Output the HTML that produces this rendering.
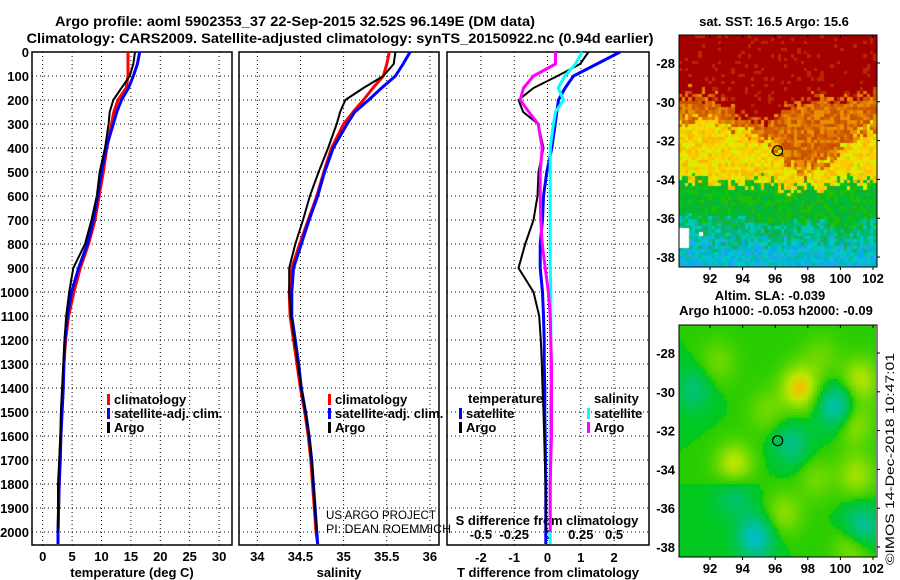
<!DOCTYPE html>
<html><head><meta charset="utf-8">
<style>
html,body{margin:0;padding:0;background:#fff;}
svg{display:block;font-family:"Liberation Sans",Arial,sans-serif;}
.t{font-weight:bold;font-size:13px;}
canvas{position:absolute;}
</style></head>
<body>
<div style="position:relative;width:900px;height:580px;">
<canvas id="sstMap" width="198" height="232" style="left:679px;top:35px;"></canvas>
<canvas id="slaMap" width="197" height="232" style="left:679px;top:325px;"></canvas>
<svg id="fig" width="900" height="580" style="position:absolute;left:0;top:0;" xmlns="http://www.w3.org/2000/svg">
<text x="295" y="26" text-anchor="middle" font-weight="bold" font-size="14" textLength="480" lengthAdjust="spacingAndGlyphs">Argo profile: aoml 5902353_37 22-Sep-2015 32.52S 96.149E (DM data)</text>
<text x="340" y="43" text-anchor="middle" font-weight="bold" font-size="14" textLength="627" lengthAdjust="spacingAndGlyphs">Climatology: CARS2009. Satellite-adjusted climatology: synTS_20150922.nc (0.94d earlier)</text>
<g id="g"></g>
<text x="774" y="26" text-anchor="middle" class="t">sat. SST: 16.5 Argo: 15.6</text>
<text x="770" y="300" text-anchor="middle" class="t">Altim. SLA: -0.039</text>
<text x="776" y="315" text-anchor="middle" class="t">Argo h1000: -0.053 h2000: -0.09</text>
<text transform="translate(894,565) rotate(-90)" font-size="12" textLength="212" lengthAdjust="spacingAndGlyphs">©IMOS 14-Dec-2018 10:47:01</text>
<text x="326" y="519" font-size="12" textLength="110" lengthAdjust="spacingAndGlyphs">US ARGO PROJECT</text>
<text x="326" y="533" font-size="12" textLength="125" lengthAdjust="spacingAndGlyphs">PI: DEAN ROEMMICH</text>
</svg>
</div>
<script>
// ---- data ----
const depths=[0,50,100,150,200,250,300,400,500,600,700,800,900,1000,1100,1200,1300,1400,1500,1600,1700,1800,1900,2000,2050];
const tempClim=[14.5,14.5,14.5,14.2,12.8,12.1,11.7,10.9,10.3,9.6,8.9,7.8,6.4,5.3,4.4,3.9,3.6,3.4,3.2,3.1,2.9,2.8,2.7,2.6,2.6];
const tempSat=[16.5,16.1,15.4,14.6,13.4,12.6,12.0,10.8,10.0,9.35,8.6,7.6,6.1,4.9,4.2,3.8,3.6,3.5,3.3,3.1,3.0,2.8,2.7,2.6,2.6];
const tempArgo=[15.7,15.4,14.8,13.4,12.0,11.4,11.2,10.6,9.7,9.2,8.3,7.2,5.2,4.5,4.0,3.7,3.5,3.3,3.1,3.0,2.8,2.6,2.6,2.6,null];
const salClim=[35.53,35.50,35.46,35.34,35.23,35.11,35.0,34.86,34.77,34.69,34.59,34.49,34.40,34.37,34.38,34.42,34.46,34.50,34.55,34.59,34.62,34.64,34.66,34.68,34.70];
const salSat=[35.77,35.69,35.60,35.44,35.29,35.13,35.04,34.88,34.78,34.70,34.60,34.51,34.42,34.40,34.40,34.44,34.48,34.51,34.56,34.60,34.63,34.65,34.67,34.69,34.70];
const salArgo=[35.60,35.58,35.46,35.23,35.02,34.96,34.92,34.82,34.71,34.61,34.53,34.44,34.37,34.37,34.39,34.43,34.47,34.51,34.56,34.60,34.63,34.65,34.67,34.69,null];
const dTsat=[2.18,1.48,0.78,0.53,0.33,0.28,0.23,0.13,-0.02,-0.12,-0.15,-0.22,-0.22,-0.15,-0.12,-0.1,-0.1,-0.08,-0.08,-0.07,-0.06,-0.05,-0.05,-0.05,-0.05];
const dTargo=[1.23,0.98,0.30,-0.42,-0.87,-0.73,-0.28,-0.12,-0.27,-0.30,-0.42,-0.67,-0.87,-0.42,-0.25,-0.2,-0.17,-0.15,-0.12,-0.1,-0.08,-0.06,-0.05,-0.05,null];
const dSsat=[0.26,0.21,0.13,0.08,0.12,0.06,0.045,0.02,0.02,0.02,0.02,0.02,0.02,0.025,0.025,0.025,0.025,0.025,0.02,0.02,0.02,0.02,0.02,0.02,0.02];
const dSargo=[0.06,0.06,-0.105,-0.18,-0.205,-0.14,-0.07,-0.04,-0.055,-0.055,-0.05,-0.04,-0.017,0.007,0.02,0.025,0.03,0.03,0.03,0.03,0.025,0.02,0.02,0.02,null];
const depthTicks=[0,100,200,300,400,500,600,700,800,900,1000,1100,1200,1300,1400,1500,1600,1700,1800,1900,2000];
const tempTicks=[0,5,10,15,20,25,30];
const salTicks=[34,34.5,35,35.5,36];
const salTickLabels=["34","34.5","35","35.5","36"];
const dTTicks=[-2,-1,0,1,2];
const dTTickLabels=["-2","-1","0","1","2"];
const dSTicks=[-0.5,-0.25,0,0.25,0.5];
const dSTickLabels=["-0.5","-0.25","0","0.25","0.5"];
const lonTicks=[92,94,96,98,100,102];
const latTicks=[-28,-30,-32,-34,-36,-38];
const floatLon=96.149, floatLat=-32.52;
// SST band boundaries (latitude) per longitude column 90..102 step 1
const sstRedEdge=[-29.6,-29.6,-29.8,-30.2,-30.8,-31.2,-30.8,-30.2,-29.9,-29.8,-29.9,-29.7,-29.6];
const sstYellowEdge=[-31.0,-31.0,-31.0,-31.2,-31.5,-31.8,-32.3,-33.2,-33.6,-33.2,-32.5,-31.8,-31.2];
const sstGreenEdge=[-34.0,-34.0,-34.1,-34.2,-34.3,-34.0,-34.3,-34.6,-34.4,-34.6,-34.1,-34.0,-34.1];
const sstTealEdge=[-35.8,-35.9,-36.0,-36.1,-36.2,-36.3,-36.6,-36.5,-36.3,-36.2,-36.6,-36.4,-36.2];
// SLA blobs: lon, lat, amplitude (positive=yellow, negative=teal)
const blobLon=[97.5,93.5,101.2,100.8,101,100.8,96.5,99.8,94.8,101.3,97,91,93.5,95.5,98.5,92.5,98.8];
const blobLat=[-29.8,-33.8,-29.4,-31.6,-34.3,-37.9,-36.3,-30.8,-37.5,-37,-32.7,-29.9,-35.3,-31,-34.5,-28.5,-28.2];
const blobAmp=[1.0,0.8,0.7,0.6,0.6,0.6,0.5,-1.0,-1.0,-0.9,-0.6,-0.5,-0.5,0.35,0.35,0.35,0.3];

// ---- axes ----
const NS="http://www.w3.org/2000/svg";
const g=document.getElementById('g');
const Y0=52,Y1=545,DMAX=2054;
const yD=d=>Y0+(Y1-Y0)*d/DMAX;
function mk(tag,attrs,parent){const e=document.createElementNS(NS,tag);for(const k in attrs)e.setAttribute(k,attrs[k]);(parent||g).appendChild(e);return e;}
const panels=[
 {l:32,r:232,x:v=>42.7+5.88*v,ticks:tempTicks,labels:tempTicks.map(String),xl:"temperature (deg C)",name:"temperature-panel"},
 {l:239,r:439,x:v=>257.3+86.3*(v-34),ticks:salTicks,labels:salTickLabels,xl:"salinity",name:"salinity-panel"},
 {l:447,r:649,x:v=>547.5+33.3*v,ticks:dTTicks,labels:dTTickLabels,xl:"T difference from climatology",name:"difference-panel"}
];
const xS=v=>547.5+133.2*v;
panels.forEach((p,i)=>{
  const pg=mk('g',{});
  
  
  depthTicks.forEach(d=>{
    const ln=mk('line',{x1:p.l,x2:p.r,y1:yD(d),y2:yD(d),stroke:'#000','stroke-width':1,'stroke-dasharray':'1,3'},pg);
    
    
  });
  p.ticks.forEach((t,j)=>{
    const X=p.x(t);
    const ln=mk('line',{x1:X,x2:X,y1:Y0,y2:Y1,stroke:'#000','stroke-width':1,'stroke-dasharray':'1,3'},pg);
    
    
    const tx=mk('text',{x:X,y:i==2?562:561,'text-anchor':'middle','class':'t'},pg);
    tx.textContent=p.labels[j];
    
    
  });
  const fr=mk('rect',{x:p.l,y:Y0,width:p.r-p.l,height:Y1-Y0,fill:'none',stroke:'#000','stroke-width':1.5},pg);
  
  
  const xl=mk('text',{x:(p.l+p.r)/2,y:577,'text-anchor':'middle','class':'t'},pg);
  xl.textContent=p.xl;
  
  
});
depthTicks.forEach(d=>{
  const tx=mk('text',{x:29,y:yD(d)+5,'text-anchor':'end','class':'t'});
  tx.textContent=String(d);
  
  
});
dSTicks.forEach((t,j)=>{
  const tx=mk('text',{x:xS(t),y:539,'text-anchor':'middle','class':'t'});
  tx.textContent=dSTickLabels[j];
  
  
});
const sdl=mk('text',{x:547,y:525,'text-anchor':'middle','class':'t'});
sdl.textContent="S difference from climatology";



function line(vals,xf,color,w,name){
  const pts=[];
  vals.forEach((v,i)=>{if(v!==null)pts.push(xf(v).toFixed(1)+','+yD(depths[i]).toFixed(1));});
  const pl=mk('polyline',{points:pts.join(' '),fill:'none',stroke:color,'stroke-width':w,'stroke-linejoin':'round'});
  
  
}
const P=panels;
line(tempClim,P[0].x,'#f00',3,'temp-climatology-line');
line(tempSat,P[0].x,'#00f',3,'temp-satellite-line');
line(tempArgo,P[0].x,'#000',2,'temp-argo-line');
line(salClim,P[1].x,'#f00',3,'sal-climatology-line');
line(salSat,P[1].x,'#00f',3,'sal-satellite-line');
line(salArgo,P[1].x,'#000',2,'sal-argo-line');
line(dTsat,P[2].x,'#00f',3,'tdiff-satellite-line');
line(dTargo,P[2].x,'#000',2,'tdiff-argo-line');
line(dSsat,xS,'#0ff',3,'sdiff-satellite-line');
line(dSargo,xS,'#f0f',3,'sdiff-argo-line');

function legend(x,y,color,label,name){
  const r=mk('rect',{x:x,y:y-9,width:3,height:11,fill:color});
  
  
  const t=mk('text',{x:x+7,y:y+1,'class':'t'});
  t.textContent=label;
  
  
}
legend(107,403,'#f00','climatology','legend-climatology');
legend(107,417,'#00f','satellite-adj. clim.','legend-satellite-adj');
legend(107,431,'#000','Argo','legend-argo');
legend(328,403,'#f00','climatology','legend-climatology-sal');
legend(328,417,'#00f','satellite-adj. clim.','legend-satellite-adj-sal');
legend(328,431,'#000','Argo','legend-argo-sal');
const lt=mk('text',{x:468,y:403,'class':'t'});lt.textContent='temperature';


const ls=mk('text',{x:594,y:403,'class':'t'});ls.textContent='salinity';


legend(459,417,'#00f','satellite','legend-t-satellite');
legend(459,431,'#000','Argo','legend-t-argo');
legend(587,417,'#0ff','satellite','legend-s-satellite');
legend(587,431,'#f0f','Argo','legend-s-argo');

// ---- maps ----
const maps=[{top:35,h:232,name:'sst'},{top:325,h:232,name:'sla'}];
const ML=679,MR=877;
const lonX=lo=>710+(lo-92)*16.3;
maps.forEach(m=>{
  const latY=la=>m.top+28+(-28-la)*19.4;
  const fr=mk('rect',{x:ML,y:m.top,width:MR-ML,height:m.h,fill:'none',stroke:'#000','stroke-width':1});
  
  
  lonTicks.forEach(lo=>{
    const X=lonX(lo);
    mk('line',{x1:X,x2:X,y1:m.top+m.h,y2:m.top+m.h+3,stroke:'#000'});
    mk('line',{x1:X,x2:X,y1:m.top,y2:m.top+3,stroke:'#000'});
    const t=mk('text',{x:X,y:m.top+m.h+16,'text-anchor':'middle','class':'t'});
    t.textContent=String(lo);
    
    
  });
  latTicks.forEach(la=>{
    const Y=latY(la);
    mk('line',{x1:MR,x2:MR+3,y1:Y,y2:Y,stroke:'#000'});
    const t=mk('text',{x:675,y:Y+5,'text-anchor':'end','class':'t'});
    t.textContent=String(la);
    
    
  });
  const c=mk('circle',{cx:lonX(floatLon),cy:latY(floatLat),r:5,fill:'none',stroke:'#000','stroke-width':1.2});
  
  
});

function h(i,j){let n=(i*374761393+j*668265263)|0;n=(n^(n>>>13))*1274126177|0;return ((n^(n>>>16))>>>0)/4294967296;}
function edge(arr,lo){const k=Math.max(0,Math.min(11.999,lo-90));const a=Math.floor(k),f=k-a;return arr[a]*(1-f)+arr[a+1]*f;}
(function(){
  const cv=document.getElementById('sstMap'),ctx=cv.getContext('2d');
  const cs=3.3;
  for(let i=0;i*cs<198;i++)for(let j=0;j*cs<232;j++){
    const lo=90.1+(i*cs+1.5)/16.3, la=-26.56-(j*cs+1.5)/19.4;
    const n=(h(i,j)-0.5)*0.9;
    const L=la+n;
    let col;
    if(L>edge(sstRedEdge,lo)) col=h(i+7,j)>0.88?'#b82800':'#a40000';
    else if(L>edge(sstYellowEdge,lo)) col=['#d06000','#e07800','#c85000','#e89000'][Math.floor(h(i,j+3)*4)];
    else if(L>edge(sstGreenEdge,lo)) col=['#f8b800','#ffd000','#f0e000','#d8f000','#f8c800'][Math.floor(h(i,j+5)*5)];
    else if(L>edge(sstTealEdge,lo)) col=['#00c020','#10b030','#20c000','#00b840'][Math.floor(h(i,j+9)*4)];
    else if(L>-37.3) col=['#00b870','#00c090','#10b060','#00c8c0'][Math.floor(h(i,j+11)*4)];
    else col=['#00c8c8','#00b0e0','#00c0a0','#20a8f0'][Math.floor(h(i,j+13)*4)];
    ctx.fillStyle=col;ctx.fillRect(Math.floor(i*cs),Math.floor(j*cs),Math.ceil(cs)+1,Math.ceil(cs)+1);
  }
  ctx.fillStyle='#fff';ctx.fillRect(0,193,10,20);ctx.fillRect(20,197,4,4);
})();
(function(){
  const cv=document.getElementById('slaMap'),ctx=cv.getContext('2d');
  const cs=3;
  for(let i=0;i*cs<197;i++)for(let j=0;j*cs<232;j++){
    const lo=90.1+(i*cs+1.5)/16.3, la=-26.56-(j*cs+1.5)/19.4;
    let v=0;
    for(let k=0;k<blobLon.length;k++){const dx=lo-blobLon[k],dy=la-blobLat[k];v+=blobAmp[k]*Math.exp(-(dx*dx+dy*dy)/1.3);}
    let r,gg,b;
    if(v>=0){const t=Math.min(1,v);r=Math.round(40+200*t);gg=Math.round(205+35*t-(t>0.75?(t-0.75)*180:0));b=0;}
    else{const t=Math.min(1,-v);r=0;gg=Math.round(200-10*t);b=Math.round(30+170*t);}
    ctx.fillStyle=`rgb(${r},${gg},${b})`;ctx.fillRect(i*cs,j*cs,cs,cs);
  }
})();
</script>
</body></html>
